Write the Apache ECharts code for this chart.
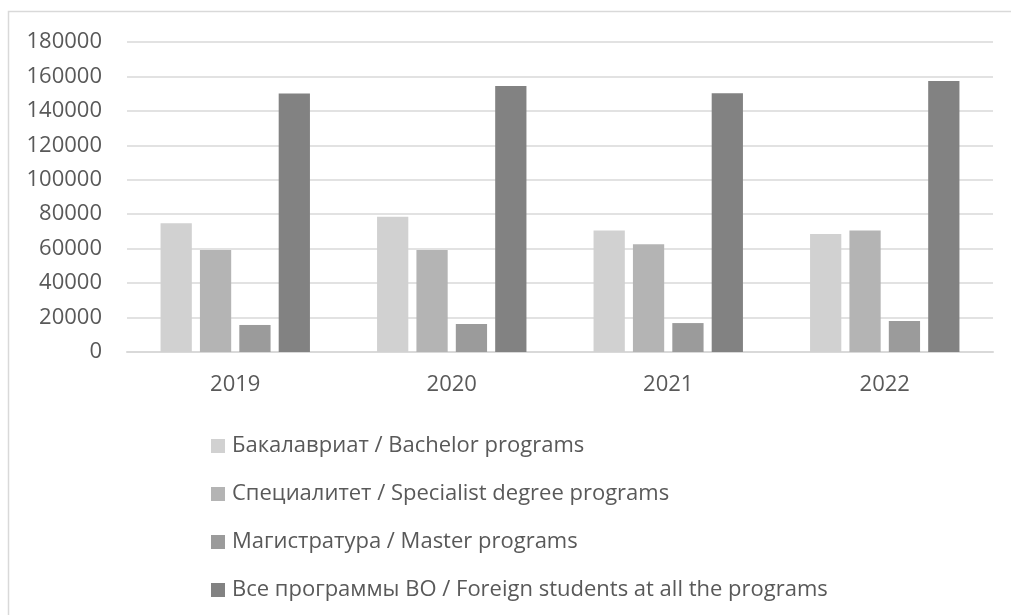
<!DOCTYPE html>
<html>
<head>
<meta charset="utf-8">
<script src="https://cdn.jsdelivr.net/npm/echarts@6/dist/echarts.min.js"></script>
<style>
  html, body { margin: 0; padding: 0; background: #fff; }
  #main { width: 1011px; height: 615px; }
</style>
</head>
<body>
<div id="main"></div>
<script>
// years on the x axis
var years = ['2019', '2020', '2021', '2022'];
// series
var bachelor = [74700, 78500, 70600, 68500];
var specialist = [59200, 59200, 62500, 70600];
var master = [15700, 16300, 16800, 18000];
var allPrograms = [150100, 154400, 150300, 157300];
var seriesNames = [
  'Бакалавриат / Bachelor programs',
  'Специалитет / Specialist degree programs',
  'Магистратура / Master programs',
  'Все программы ВО / Foreign students at all the programs'
];
var seriesData = [bachelor, specialist, master, allPrograms];
var colors = ['#d1d1d1', '#b4b4b4', '#9b9b9b', '#828282'];

var font = '"Open Sans", "Liberation Sans", sans-serif';
var textColor = '#595959';

var chart = echarts.init(document.getElementById('main'), null, { renderer: 'canvas' });

var series = seriesData.map(function (d, i) {
  return {
    name: seriesNames[i],
    type: 'bar',
    data: d,
    barGap: '26%',
    barCategoryGap: '31%',
    itemStyle: { color: colors[i] },
    animation: false
  };
});

chart.setOption({
  color: colors,
  textStyle: { fontFamily: font },
  graphic: [{
    type: 'rect',
    shape: { x: 8.5, y: 11.5, width: 1100, height: 700 },
    style: { fill: 'none', stroke: '#d9d9d9', lineWidth: 1.5 },
    silent: true
  }],
  grid: { left: 127, right: 18, top: 42, bottom: 263, containLabel: false },
  xAxis: {
    type: 'category',
    data: years,
    axisLine: { lineStyle: { color: '#d9d9d9', width: 2 } },
    axisTick: { show: false },
    axisLabel: { color: textColor, fontSize: 22, fontFamily: font, margin: 22 }
  },
  yAxis: {
    type: 'value',
    min: 0,
    max: 180000,
    interval: 20000,
    axisLine: { show: false },
    axisTick: { show: false },
    splitLine: { lineStyle: { color: '#d9d9d9', width: 1.5 } },
    axisLabel: {
      color: textColor, fontSize: 22, fontFamily: font, margin: 25,
      formatter: function (v) { return String(v); }
    }
  },
  legend: {
    orient: 'vertical',
    left: 211,
    top: 435,
    padding: 0,
    itemWidth: 14,
    itemHeight: 14,
    itemGap: 26,
    icon: 'rect',
    textStyle: { color: textColor, fontSize: 22, fontFamily: font, lineHeight: 22, padding: [0, 0, 0, 2] },
    data: seriesNames
  },
  series: series
});
</script>
</body>
</html>
